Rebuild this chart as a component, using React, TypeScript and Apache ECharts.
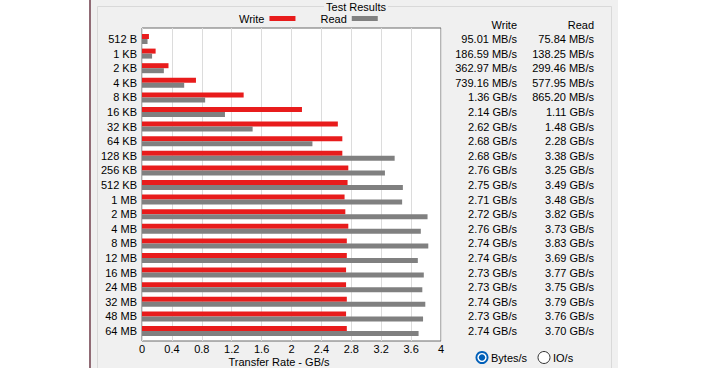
import React, { useEffect, useRef } from 'react';
import * as echarts from 'echarts';

const categories = ['512 B', '1 KB', '2 KB', '4 KB', '8 KB', '16 KB', '32 KB', '64 KB', '128 KB', '256 KB', '512 KB', '1 MB', '2 MB', '4 MB', '8 MB', '12 MB', '16 MB', '24 MB', '32 MB', '48 MB', '64 MB'];
const writeResults = ['95.01 MB/s', '186.59 MB/s', '362.97 MB/s', '739.16 MB/s', '1.36 GB/s', '2.14 GB/s', '2.62 GB/s', '2.68 GB/s', '2.68 GB/s', '2.76 GB/s', '2.75 GB/s', '2.71 GB/s', '2.72 GB/s', '2.76 GB/s', '2.74 GB/s', '2.74 GB/s', '2.73 GB/s', '2.73 GB/s', '2.74 GB/s', '2.73 GB/s', '2.74 GB/s'];
const readResults = ['75.84 MB/s', '138.25 MB/s', '299.46 MB/s', '577.95 MB/s', '865.20 MB/s', '1.11 GB/s', '1.48 GB/s', '2.28 GB/s', '3.38 GB/s', '3.25 GB/s', '3.49 GB/s', '3.48 GB/s', '3.82 GB/s', '3.73 GB/s', '3.83 GB/s', '3.69 GB/s', '3.77 GB/s', '3.75 GB/s', '3.79 GB/s', '3.76 GB/s', '3.70 GB/s'];
const seriesNames = ['Write', 'Read'];
const axisMax = 4;
const axisStep = 0.4;

const toGB = (s: string) => parseFloat(s) / (s.includes('MB') ? 1024 : 1);
const writeValues = writeResults.map(toGB);
const readValues = readResults.map(toGB);

const FONT = 'Liberation Sans';
const txt = { fontFamily: FONT, fontSize: 11, color: '#000' };

export default function App() {
  const ref = useRef<HTMLDivElement>(null);
  useEffect(() => {
    const chart = echarts.init(ref.current!, null, { renderer: 'svg' });
    chart.setOption({
      animation: false,
      textStyle: { fontFamily: FONT, fontSize: 11, color: '#000' },
      legend: {
        data: seriesNames,
        left: 239,
        top: 13,
        padding: 0,
        align: 'right',
        icon: 'rect',
        itemWidth: 26,
        itemHeight: 5,
        itemGap: 25,
        selectedMode: false,
        textStyle: txt,
      },
      grid: [
        { left: 142, top: 28, width: 299, height: 313, show: true, backgroundColor: '#fff', borderColor: '#6a6a6a', borderWidth: 1 },
        { left: 142, top: 31.7, width: 299, height: 306.6 },
      ],
      xAxis: [
        {
          gridIndex: 0, type: 'value', min: 0, max: axisMax, interval: axisStep,
          axisLine: { show: false }, axisTick: { show: false },
          splitLine: { lineStyle: { color: '#dcdcdc', width: 1 } },
          axisLabel: { ...txt, margin: 2 },
        },
        { gridIndex: 1, type: 'value', min: 0, max: axisMax, show: false },
      ],
      yAxis: [
        { gridIndex: 0, type: 'value', show: false },
        {
          gridIndex: 1, type: 'category', data: categories, inverse: true,
          axisLine: { show: false }, axisTick: { show: false }, splitLine: { show: false },
          axisLabel: { ...txt, margin: 5, interval: 0 },
        },
        {
          gridIndex: 1, type: 'category', data: categories, inverse: true, position: 'right',
          axisLine: { show: false }, axisTick: { show: false }, splitLine: { show: false },
          axisLabel: {
            ...txt, margin: 6, interval: 0,
            formatter: (_v: string, i: number) => `{w|${writeResults[i]}}{r|${readResults[i]}}`,
            rich: {
              w: { ...txt, width: 70, align: 'right' },
              r: { ...txt, width: 77, align: 'right' },
            },
          },
        },
      ],
      series: [
        { name: seriesNames[0], type: 'bar', xAxisIndex: 1, yAxisIndex: 1, data: writeValues, barWidth: 5, barGap: '0%', itemStyle: { color: '#e81c1c' } },
        { name: seriesNames[1], type: 'bar', xAxisIndex: 1, yAxisIndex: 1, data: readValues, barWidth: 5, barGap: '0%', itemStyle: { color: '#808080' } },
      ],
      graphic: [
        { type: 'rect', z: -100, shape: { x: 91, y: 0, width: 527, height: 368 }, style: { fill: '#f0f0f0' } },
        { type: 'line', z: -90, shape: { x1: 90, y1: 0, x2: 90, y2: 368 }, style: { stroke: '#6b3a47', lineWidth: 1.5 } },
        {
          type: 'line', z: -90, shape: { x1: 618.5, y1: 0, x2: 618.5, y2: 368 },
          style: {
            lineWidth: 1,
            stroke: new echarts.graphic.LinearGradient(0, 0, 0, 1, [
              { offset: 0, color: '#c4305a' },
              { offset: 0.75, color: '#a03050' },
              { offset: 1, color: '#3a2a30' },
            ]),
          },
        },
        { type: 'rect', z: -80, shape: { x: 97.5, y: 6.5, width: 514, height: 420 }, style: { fill: 'none', stroke: '#d9d9d9', lineWidth: 1 } },
        { type: 'text', z: 10, x: 356, y: 6.5, style: { text: 'Test Results', ...txt, fill: '#000', align: 'center', verticalAlign: 'middle', backgroundColor: '#f0f0f0', padding: [0, 2] } },
        { type: 'text', z: 10, x: 517, y: 24.5, style: { text: 'Write', ...txt, fill: '#000', align: 'right', verticalAlign: 'middle' } },
        { type: 'text', z: 10, x: 594, y: 24.5, style: { text: 'Read', ...txt, fill: '#000', align: 'right', verticalAlign: 'middle' } },
        { type: 'text', z: 10, x: 279, y: 361.5, style: { text: 'Transfer Rate - GB/s', ...txt, fill: '#000', align: 'center', verticalAlign: 'middle' } },
        { type: 'circle', z: 10, shape: { cx: 482, cy: 357.5, r: 6.5 }, style: { fill: '#005fb8' } },
        { type: 'circle', z: 11, shape: { cx: 482, cy: 357.5, r: 4.6 }, style: { fill: '#fff' } },
        { type: 'circle', z: 12, shape: { cx: 482, cy: 357.5, r: 3.2 }, style: { fill: '#005fb8' } },
        { type: 'text', z: 10, x: 491, y: 357.5, style: { text: 'Bytes/s', ...txt, fill: '#000', align: 'left', verticalAlign: 'middle' } },
        { type: 'circle', z: 10, shape: { cx: 544, cy: 357.5, r: 6 }, style: { fill: '#fff', stroke: '#333', lineWidth: 1 } },
        { type: 'text', z: 10, x: 553, y: 357.5, style: { text: 'IO/s', ...txt, fill: '#000', align: 'left', verticalAlign: 'middle' } },
      ],
    });
    return () => chart.dispose();
  }, []);
  return <div ref={ref} style={{ position: 'fixed', left: 0, top: 0, width: 708, height: 368, background: '#fff' }} />;
}
